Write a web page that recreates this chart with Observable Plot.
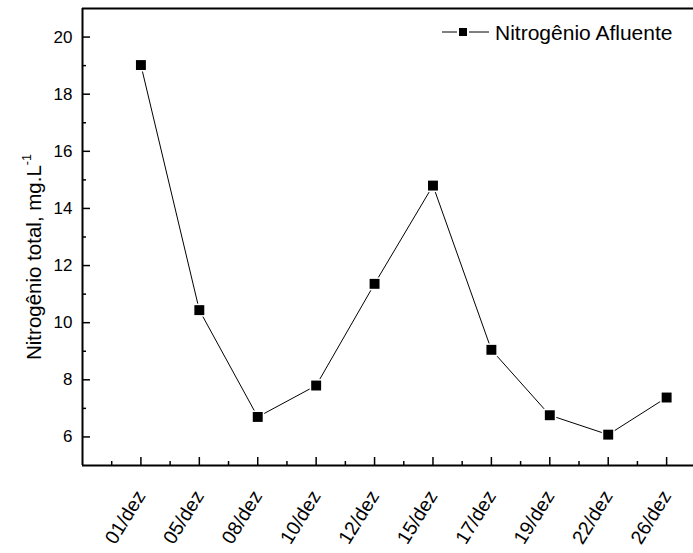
<!DOCTYPE html>
<html><head><meta charset="utf-8">
<script src="https://cdn.jsdelivr.net/npm/d3@7"></script>
<script src="https://cdn.jsdelivr.net/npm/@observablehq/plot@0.6"></script>
<style>body{margin:0;background:#fff} svg{display:block}</style>
</head><body><div id="chart"></div>
<script>
const dates = ["01/dez","05/dez","08/dez","10/dez","12/dez","15/dez","17/dez","19/dez","22/dez","26/dez"];
const nitrogen = [19.02, 10.44, 6.70, 7.80, 11.36, 14.80, 9.05, 6.76, 6.08, 7.38];
const yMajor = [6, 8, 10, 12, 14, 16, 18, 20];
const yMinor = [7, 9, 11, 13, 15, 17, 19];
const xMajor = dates.map((d, i) => i);
const xMinor = dates.map((d, i) => i - 0.5);
const seriesName = "Nitrogênio Afluente";

const data = dates.map((d, i) => ({i, label: d, value: nitrogen[i]}));
const font = "Liberation Sans, Arial, sans-serif";

const W = 693, H = 553;
const mL = 82, mR = 0, mT = 8, mB = 88;
const frameW = W - mL - mR, frameH = H - mT - mB;

const chart = Plot.plot({
  width: W, height: H,
  marginLeft: mL, marginRight: mR, marginTop: mT, marginBottom: mB,
  style: {fontFamily: font, background: "#fff", color: "#000"},
  x: {type: "linear", domain: [-1, 9.46], axis: null, label: null},
  y: {domain: [5, 21], axis: null, label: null},
  marks: [
    Plot.tickX(xMajor, {x: d => d, insetTop: frameH - 8, strokeWidth: 1.5, stroke: "#000"}),
    Plot.tickX(xMinor, {x: d => d, insetTop: frameH - 4, strokeWidth: 1.5, stroke: "#000"}),
    Plot.tickY(yMajor, {y: d => d, insetRight: frameW - 8, strokeWidth: 1.5, stroke: "#000"}),
    Plot.tickY(yMinor, {y: d => d, insetRight: frameW - 4, strokeWidth: 1.5, stroke: "#000"}),
    Plot.axisY(yMajor, {anchor: "left", tickSize: 0, tickPadding: 10, fontSize: 17, label: null}),
    Plot.axisX(xMajor, {anchor: "bottom", tickSize: 0, tickPadding: 27, tickRotate: -58, fontSize: 19.5,
      tickFormat: i => dates[i], label: null, textAnchor: "end"}),
    Plot.ruleX([-1], {strokeWidth: 2}),
    Plot.ruleY([5], {strokeWidth: 2}),
    Plot.ruleY([21], {strokeWidth: 2}),
    Plot.line(data, {x: "i", y: "value", stroke: "#000", strokeWidth: 1}),
    Plot.dot(data, {x: "i", y: "value", symbol: "square", r: 7.3, fill: "#fff", stroke: "none"}),
    Plot.dot(data, {x: "i", y: "value", symbol: "square", r: 5.6, fill: "#000", stroke: "none"})
  ]
});

const svg = d3.select(chart);
const lg = svg.append("g").attr("font-family", font).attr("text-anchor", "start");
lg.append("line").attr("x1", 442).attr("x2", 489).attr("y1", 32).attr("y2", 32).attr("stroke", "#000").attr("stroke-width", 1);
lg.append("rect").attr("x", 457).attr("y", 26).attr("width", 12).attr("height", 12).attr("fill", "#fff");
lg.append("rect").attr("x", 459).attr("y", 28).attr("width", 8).attr("height", 8).attr("fill", "#000");
lg.append("text").attr("x", 495).attr("y", 40).attr("font-size", 21).attr("fill", "#000").text(seriesName);
const yl = svg.append("text").attr("font-family", font).attr("font-size", 20.5).attr("fill", "#000")
  .attr("transform", "translate(40.5,257) rotate(-90)").attr("text-anchor", "middle");
yl.append("tspan").text("Nitrogênio total, mg.L");
yl.append("tspan").attr("font-size", 12.5).attr("dy", -9.5).text("-1");

document.getElementById("chart").appendChild(chart);
</script></body></html>
